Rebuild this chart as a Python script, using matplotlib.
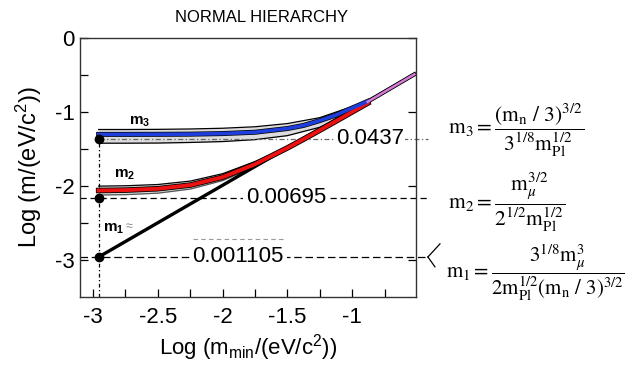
import numpy as np
import matplotlib
matplotlib.use("Agg")
from matplotlib import pyplot as plt

plt.rcParams['font.family'] = ['Liberation Sans', 'DejaVu Sans']
plt.rcParams['axes.unicode_minus'] = False
plt.rcParams['mathtext.fontset'] = 'custom'
plt.rcParams['mathtext.rm'] = 'Liberation Sans'
plt.rcParams['mathtext.it'] = 'Liberation Sans:italic'
plt.rcParams['mathtext.bf'] = 'Liberation Sans:bold'

# lightest mass m1 (log10 eV) at the marked point
x_min = -2.957
# reference levels (log10 of the quoted masses)
ref_vals = [0.0437, 0.00695, 0.001105]
ref_labels = ["0.0437", "0.00695", "0.001105"]

# m3 and m2 curves vs log m_min
x_curve = [-2.957, -2.75, -2.5, -2.25, -2.0, -1.75, -1.5, -1.375, -1.25, -1.125, -1.0, -0.88]
m3_curve = [-1.301, -1.301, -1.300, -1.298, -1.290, -1.272, -1.222, -1.180, -1.115, -1.040, -0.945, -0.855]
m2_curve = [-2.059, -2.054, -2.035, -1.986, -1.879, -1.704, -1.484, -1.366, -1.245, -1.122, -0.998, -0.879]

# uncertainty bands
x_band3 = [-2.957, -2.75, -2.5, -2.25, -2.0, -1.75, -1.5, -1.25, -1.0, -0.88]
m3_upper = [-1.235, -1.235, -1.233, -1.228, -1.218, -1.198, -1.155, -1.075, -0.925, -0.850]
m3_lower = [-1.420, -1.420, -1.418, -1.410, -1.398, -1.372, -1.318, -1.205, -1.000, -0.870]
x_band2 = [-2.957, -2.75, -2.5, -2.25, -2.0, -1.75, -1.5]
m2_upper = [-2.000, -1.995, -1.978, -1.932, -1.832, -1.668, -1.472]
m2_lower = [-2.120, -2.115, -2.095, -2.040, -1.925, -1.740, -1.495]

# m1 ~ m_min diagonal, and merged part of the curves
x_m1 = [-2.957, -0.52]
y_m1 = [-2.957, -0.49]
x_merge = [-0.88, -0.52]
y_merge = [-0.86, -0.49]

fig = plt.figure(figsize=(6.33, 3.66), dpi=100)
ax = fig.add_axes([0.126, 0.188, 0.531, 0.708])

# bands
ax.fill_between(x_band3, m3_lower, m3_upper, color='#dcdcdc', lw=0, zorder=1)
ax.plot(x_band3, m3_upper, color='black', lw=0.9, zorder=2)
ax.plot(x_band3, m3_lower, color='black', lw=0.9, zorder=2)
ax.fill_between(x_band2, m2_lower, m2_upper, color='#dcdcdc', lw=0, zorder=1)
ax.plot(x_band2, m2_upper, color='black', lw=0.9, zorder=2)
ax.plot(x_band2, m2_lower, color='#555555', lw=0.9, zorder=2)

# reference lines
ref_logs = [np.log10(v) for v in ref_vals]
ax.plot([x_min, -0.415], [ref_logs[0]] * 2, color='#666666', lw=0.9, ls=(0, (4, 2, 1, 2)),
        clip_on=False, zorder=2)
ax.plot([-3.1, -0.415], [ref_logs[1]] * 2, color='black', lw=0.9, ls=(0, (5, 3)),
        clip_on=False, zorder=2)
ax.plot([-3.1, -0.415], [ref_logs[2]] * 2, color='black', lw=0.9, ls=(0, (6, 3)),
        clip_on=False, zorder=2)
ax.plot([-2.23, -1.53], [-2.72, -2.72], color='#999999', lw=0.8, ls=(0, (4, 3)), zorder=2)
ax.plot([-0.415, -0.322], [ref_logs[2], -2.78], color='black', lw=0.9, clip_on=False)
ax.plot([-0.415, -0.361], [ref_logs[2], -3.09], color='black', lw=0.9, clip_on=False)
ax.plot([x_min, x_min], [-3.5, ref_logs[0]], color='black', lw=0.9, ls=(0, (3, 2, 1, 2)), zorder=2)

# curves
ax.plot(x_m1, y_m1, color='black', lw=2.4, zorder=3)
ax.plot(x_curve, m2_curve, color='black', lw=4.0, zorder=4)
ax.plot(x_curve, m2_curve, color='#ee1111', lw=2.8, zorder=5)
ax.plot(x_curve, m3_curve, color='black', lw=3.6, zorder=4)
ax.plot(x_curve, m3_curve, color='#1f3fdc', lw=2.6, zorder=5)
ax.plot(x_merge, y_merge, color='black', lw=3.0, zorder=4)
ax.plot(x_merge, y_merge, color='#d77ad7', lw=1.8, zorder=5)

ax.plot([x_min] * 3, ref_logs, 'o', color='black', ms=6, zorder=6, clip_on=False)

# value boxes
ax.text(-0.863, ref_logs[0], ref_labels[0], fontsize=16, ha='center', va='center', zorder=7,
        bbox=dict(facecolor='white', edgecolor='none', pad=0.5))
ax.text(-1.51, ref_logs[1], ref_labels[1], fontsize=16, ha='center', va='center', zorder=7,
        bbox=dict(facecolor='white', edgecolor='none', pad=2))
ax.text(-1.88, ref_logs[2], ref_labels[2], fontsize=16, ha='center', va='center', zorder=7,
        bbox=dict(facecolor='white', edgecolor='none', pad=2))

# curve names
ax.text(-2.64, -1.13, r'$\mathbf{m_3}$', fontsize=11, ha='center', va='center')
ax.text(-2.76, -1.85, r'$\mathbf{m_2}$', fontsize=11, ha='center', va='center')
ax.text(-2.84, -2.58, r'$\mathbf{m_1}$', fontsize=11, ha='center', va='center')
ax.text(-2.72, -2.56, '≈', fontsize=9, color='#888888', ha='center', va='center')

ax.set_xlim(-3.103, -0.508)
ax.set_ylim(-3.5, 0)
ax.set_xticks([-3, -2.5, -2, -1.5, -1])
ax.set_xticklabels(['-3', '-2.5', '-2', '-1.5', '-1'])
ax.set_xticks([-2.75, -2.25, -1.75, -1.25, -0.75], minor=True)
ax.set_yticks([0, -1, -2, -3])
ax.set_yticklabels(['0', '-1', '-2', '-3'])
ax.set_yticks([-0.5, -1.5, -2.5], minor=True)
ax.tick_params(which='both', direction='in', labelsize=16, length=6, width=0.9)
ax.tick_params(axis='y', which='major', right=True)
ax.tick_params(axis='x', pad=7)
for s in ax.spines.values():
    s.set_linewidth(1.0)
    s.set_color('#333333')

ax.set_xlabel(r'Log (m$_{\rm min}$/(eV/c$^2$))', fontsize=16, labelpad=3)
ax.set_ylabel(r'Log (m/(eV/c$^2$))', fontsize=17, labelpad=8)

fig.text(262 / 633, 1 - 18 / 366, 'NORMAL HIERARCHY', fontsize=12, ha='center', va='center')

# formulas
fig.text(448 / 633, 1 - 130 / 366,
         r'$\mathrm{m_3} = \dfrac{(\mathrm{m_n}\ /\ 3)^{3/2}}{3^{1/8}\mathrm{m_{Pl}^{1/2}}}$',
         fontsize=15.5, ha='left', va='center', math_fontfamily='stix')
fig.text(448 / 633, 1 - 202 / 366,
         r'$\mathrm{m_2} = \dfrac{\mathrm{m}_{\mu}^{3/2}}{2^{1/2}\mathrm{m_{Pl}^{1/2}}}$',
         fontsize=15.5, ha='left', va='center', math_fontfamily='stix')
fig.text(446 / 633, 1 - 273 / 366,
         r'$\mathrm{m_1} = \dfrac{3^{1/8}\mathrm{m}_{\mu}^{3}}{2\mathrm{m_{Pl}^{1/2}}(\mathrm{m_n}\ /\ 3)^{3/2}}$',
         fontsize=15, ha='left', va='center', math_fontfamily='stix')

fig.savefig('out.png', dpi=100)
